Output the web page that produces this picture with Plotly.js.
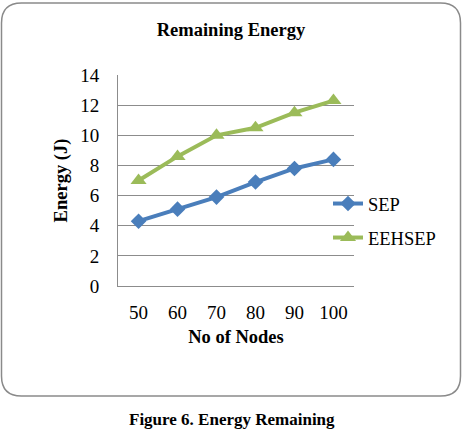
<!DOCTYPE html>
<html>
<head>
<meta charset="utf-8">
<script src="https://cdn.plot.ly/plotly-3.0.1.min.js"></script>
<style>
  html, body { margin: 0; padding: 0; background: #ffffff; }
  #chart { width: 465px; height: 430px; }
</style>
</head>
<body>
<div id="chart"></div>
<script>
// Remaining energy (J) per network size
const nodes = ['50', '60', '70', '80', '90', '100'];
const sepEnergy = [4.3, 5.1, 5.9, 6.9, 7.8, 8.4];
const eehsepEnergy = [7.0, 8.6, 10.0, 10.5, 11.5, 12.3];
const yTicks = [0, 2, 4, 6, 8, 10, 12, 14];

const W = 465, H = 430;
const M = { l: 118, r: 111, t: 75, b: 144 };
const plotW = W - M.l - M.r, plotH = H - M.t - M.b;
// pixel -> paper coordinates
const px = x => (x - M.l) / plotW;
const py = y => (H - M.b - y) / plotH;

const serif = 'Liberation Serif, Times New Roman, serif';
const blue = '#4a7ebb';
const green = '#9bbb59';
const grid = '#8c8c8c';

// rounded frame around the chart
function roundedFrame(x0, y0, x1, y1, r) {
  const p = (x, y) => px(x) + ',' + py(y);
  return 'M' + p(x0 + r, y0) + ' L' + p(x1 - r, y0) +
    ' Q' + p(x1, y0) + ' ' + p(x1, y0 + r) +
    ' L' + p(x1, y1 - r) +
    ' Q' + p(x1, y1) + ' ' + p(x1 - r, y1) +
    ' L' + p(x0 + r, y1) +
    ' Q' + p(x0, y1) + ' ' + p(x0, y1 - r) +
    ' L' + p(x0, y0 + r) +
    ' Q' + p(x0, y0) + ' ' + p(x0 + r, y0) + ' Z';
}

const traces = [
  {
    x: nodes, y: sepEnergy, name: 'SEP', type: 'scatter', mode: 'lines+markers',
    line: { color: blue, width: 4 },
    marker: { symbol: 'diamond', size: 12, color: blue },
    legend: 'legend'
  },
  {
    x: nodes, y: eehsepEnergy, name: 'EEHSEP', type: 'scatter', mode: 'lines+markers',
    line: { color: green, width: 4 },
    marker: { symbol: 'triangle-up', size: 14, color: green },
    legend: 'legend2'
  }
];

const legendBase = {
  xref: 'paper', yref: 'paper', xanchor: 'left', yanchor: 'middle',
  bgcolor: 'rgba(0,0,0,0)', borderwidth: 0,
  font: { family: serif, size: 18.5, color: '#000' }
};

const layout = {
  width: W, height: H,
  margin: M,
  paper_bgcolor: '#ffffff', plot_bgcolor: '#ffffff',
  font: { family: serif, color: '#000' },
  title: {
    text: '<b>Remaining Energy</b>',
    font: { family: serif, size: 18.5, color: '#000' },
    xref: 'paper', x: px(231), xanchor: 'center',
    yref: 'container', y: 1 - 30 / H, yanchor: 'middle'
  },
  xaxis: {
    type: 'category',
    categoryorder: 'array', categoryarray: nodes,
    showline: true, linecolor: grid, linewidth: 1,
    showgrid: false, zeroline: false,
    ticks: '', ticklabelstandoff: 9,
    tickfont: { family: serif, size: 19, color: '#000' },
    title: { text: '<b>No of Nodes</b>', standoff: 8, font: { family: serif, size: 18.5, color: '#000' } },
    fixedrange: true
  },
  yaxis: {
    range: [0, 14], tickvals: yTicks, ticktext: yTicks.map(String),
    showline: true, linecolor: grid, linewidth: 1,
    showgrid: true, gridcolor: grid, gridwidth: 1, zeroline: false,
    ticks: '', ticklabelstandoff: 14,
    tickfont: { family: serif, size: 19, color: '#000' },
    title: { text: '<b>Energy (J)</b>', standoff: 7, font: { family: serif, size: 18.5, color: '#000' } },
    fixedrange: true
  },
  showlegend: true,
  legend: Object.assign({}, legendBase, { x: px(328), y: py(204) }),
  legend2: Object.assign({}, legendBase, { x: px(328), y: py(238) }),
  shapes: [
    {
      type: 'path', xref: 'paper', yref: 'paper', layer: 'below',
      path: roundedFrame(1.5, 3, 460.5, 396, 20),
      line: { color: '#8a8a8a', width: 1.5 }, fillcolor: 'rgba(0,0,0,0)'
    }
  ],
  annotations: [
    {
      text: '<b>Figure 6. Energy Remaining</b>',
      xref: 'paper', yref: 'paper', x: px(232), y: py(419),
      xanchor: 'center', yanchor: 'middle', showarrow: false,
      font: { family: serif, size: 17, color: '#000' }
    }
  ]
};

Plotly.newPlot('chart', traces, layout, { displayModeBar: false, staticPlot: true });
</script>
</body>
</html>
